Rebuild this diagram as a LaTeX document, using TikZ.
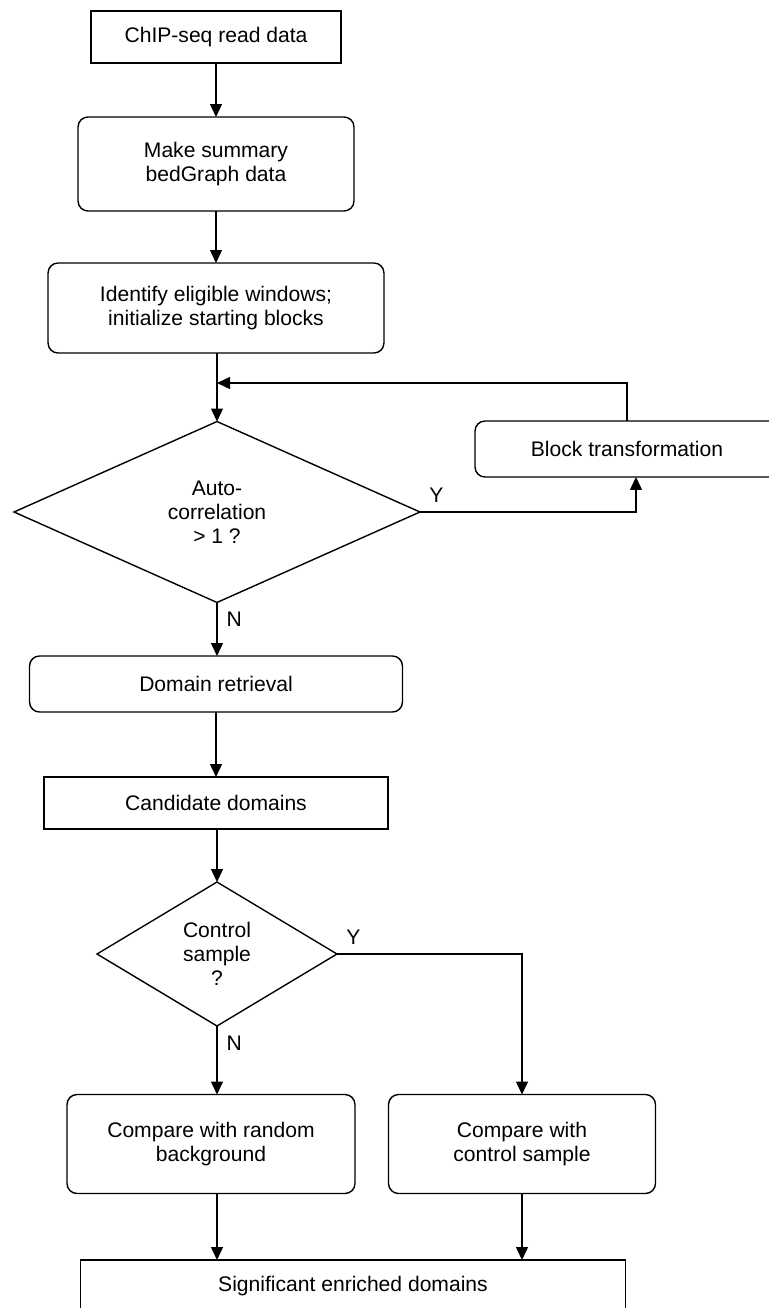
\documentclass[tikz,border=0pt]{standalone}
\usepackage{fontspec}
\setmainfont{Liberation Sans}
\usetikzlibrary{shapes.geometric,arrows.meta}

\begin{document}
\begin{tikzpicture}[x=0.02cm, y=-0.02cm,
    font=\fontsize{12}{13.7}\selectfont, line width=0.8pt,
    box/.style={draw, rectangle, outer sep=0, inner sep=0, align=center},
    roundbox/.style={box, rounded corners=0.2cm},
    decision/.style={draw, diamond, aspect=2, outer sep=0, inner sep=0, align=center},
    lbl/.style={inner sep=0.19cm, outer sep=0},
    arr/.style={-{Triangle[length=0.26cm, width=0.24cm]}}]
        \useasboundingbox (0,0) rectangle (768,1308);

        \draw (216,37) node[box, minimum width=5cm, minimum height=1.04cm] (read) {ChIP-seq read data};

        \draw (216,164) node[roundbox, minimum width=5.52cm, minimum height=1.88cm] (summary) {Make summary\\bedGraph data};

        \draw (216,308) node[roundbox, minimum width=6.72cm, minimum height=1.8cm] (windows) {Identify eligible windows;\\initialize starting blocks};

        \draw (217,512) node[decision, minimum width=8.12cm, minimum height=3.62cm] (auto) {Auto-\\correlation\\> 1 ?};

        \draw (627,449) node[roundbox, minimum width=6.08cm, minimum height=1.12cm] (block) {Block transformation};

        \draw (216,684) node[roundbox, minimum width=7.46cm, minimum height=1.12cm] (retrieval) {Domain retrieval};

        \draw (216,803) node[box, minimum width=6.88cm, minimum height=1.04cm] (candidate) {Candidate domains};

        \draw (217,954) node[decision, minimum width=4.8cm, minimum height=2.88cm] (ctrl) {Control\\sample\\?};

        \draw (211,1144) node[roundbox, minimum width=5.76cm, minimum height=1.98cm] (random) {Compare with random\\background};

        \draw (522,1144) node[roundbox, minimum width=5.34cm, minimum height=1.98cm] (cmpctrl) {Compare with\\control sample};

        \draw (353,1286) node[box, minimum width=10.9cm, minimum height=1.04cm] (sig) {Significant enriched domains};

        % labels of the two decisions
        \draw (auto.east) node[lbl, anchor=south west] (auto-y) {Y};
        \draw (auto.south) node[lbl, anchor=north west] (auto-n) {N};
        \draw (ctrl.east) node[lbl, anchor=south west] (ctrl-y) {Y};
        \draw (ctrl.south) node[lbl, anchor=north west] (ctrl-n) {N};

        % main column
        \coordinate (merge) at (217,383);
        \draw[arr] (read) -- (read |- summary.north);
        \draw[arr] (summary) -- (windows);
        \draw (windows.south -| merge) -- (merge);
        \draw[arr] (merge) -- (auto.north);
        \draw[arr] (auto.south) -- (auto.south |- retrieval.north);
        \draw[arr] (retrieval) -- (candidate);
        \draw[arr] (candidate.south -| ctrl) -- (ctrl.north);

        % loop through block transformation
        \draw[arr] (auto.east) -| ([xshift=0.18cm]block.south);
        \draw[arr] (block.north) |- (merge);

        % two comparisons
        \draw[arr] (ctrl.south) -- (ctrl.south |- random.north);
        \draw[arr] (ctrl.east) -| (cmpctrl.north);
        \draw[arr] (random.south -| ctrl.south) -- (ctrl.south |- sig.north);
        \draw[arr] (cmpctrl.south) -- (cmpctrl.south |- sig.north);
      \end{tikzpicture}
\end{document}
